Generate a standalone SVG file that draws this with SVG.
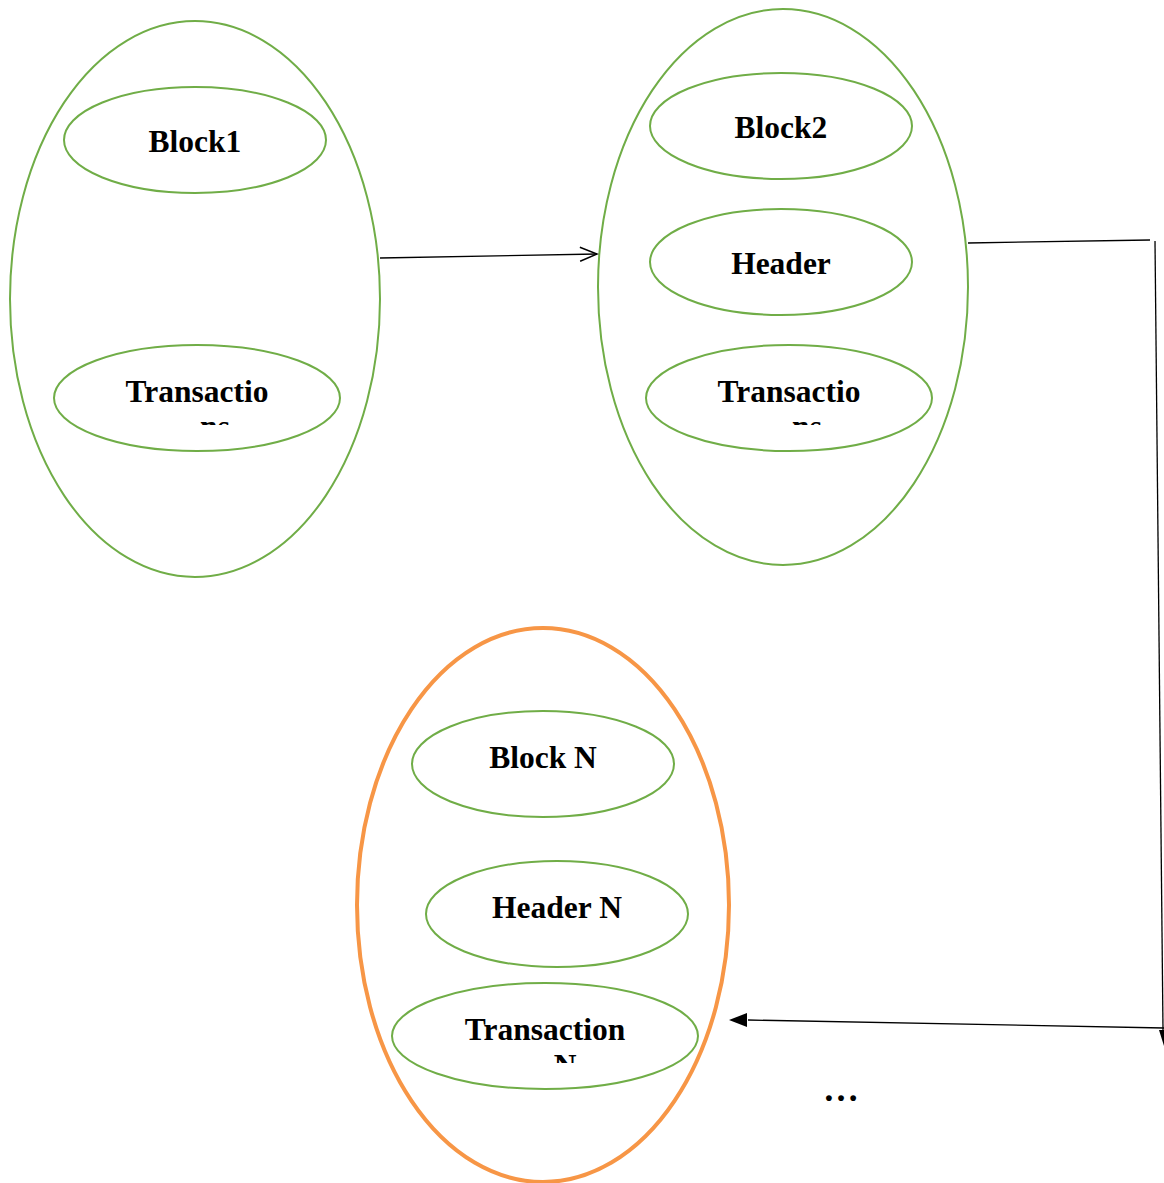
<svg xmlns="http://www.w3.org/2000/svg" width="1164" height="1183" viewBox="0 0 1164 1183">
<style>
.g{fill:none;stroke:#70AD47;stroke-width:2}
.o{fill:none;stroke:#F79646;stroke-width:4}
.t{font-family:"Liberation Serif","Times New Roman",serif;font-weight:bold;font-size:31.5px;fill:#000;text-anchor:middle}
.c{fill:none;stroke:#000;stroke-width:1.3}
</style>
<defs>
<marker id="open" markerWidth="20" markerHeight="16" refX="18" refY="8" orient="auto" markerUnits="userSpaceOnUse">
<path d="M1,1 L18,8 L1,15" fill="none" stroke="#000" stroke-width="1.5"/>
</marker>
<clipPath id="c1"><rect x="0" y="0" width="1164" height="425"/></clipPath>
<clipPath id="c2"><rect x="0" y="0" width="1164" height="1063"/></clipPath>
</defs>
<rect width="1164" height="1183" fill="#fff"/>
<g id="block1">
<ellipse class="g" cx="195" cy="299" rx="185" ry="278"/>
<ellipse class="g" cx="195" cy="140" rx="131" ry="53"/>
<text class="t" x="195" y="152">Block1</text>
<ellipse class="g" cx="197" cy="398" rx="143" ry="53"/>
<g clip-path="url(#c1)"><text class="t" x="197" y="402">Transactio</text><text class="t" x="215" y="437">ns</text></g>
</g>
<g id="block2">
<ellipse class="g" cx="783" cy="287" rx="185" ry="278"/>
<ellipse class="g" cx="781" cy="126" rx="131" ry="53"/>
<text class="t" x="781" y="138">Block2</text>
<ellipse class="g" cx="781" cy="262" rx="131" ry="53"/>
<text class="t" x="781" y="274">Header</text>
<ellipse class="g" cx="789" cy="398" rx="143" ry="53"/>
<g clip-path="url(#c1)"><text class="t" x="789" y="402">Transactio</text><text class="t" x="807" y="437">ns</text></g>
</g>
<g id="blockN">
<ellipse class="o" cx="543" cy="905" rx="186" ry="277"/>
<ellipse class="g" cx="543" cy="764" rx="131" ry="53"/>
<text class="t" x="543" y="768">Block N</text>
<ellipse class="g" cx="557" cy="914" rx="131" ry="53"/>
<text class="t" x="557" y="918">Header N</text>
<ellipse class="g" cx="545" cy="1036" rx="153" ry="53"/>
<g clip-path="url(#c2)"><text class="t" x="545" y="1040">Transaction</text><text class="t" x="565" y="1076">N</text></g>
</g>
<g id="connectors">
<line class="c" x1="380" y1="258" x2="597" y2="254" marker-end="url(#open)"/>
<polyline class="c" points="968,243 1150,240"/>
<line class="c" x1="1155" y1="241" x2="1163" y2="1030"/>
<path d="M1159,1030 L1164,1030 L1164,1046 Z" fill="#000"/>
<line class="c" x1="1164" y1="1028" x2="748" y2="1020"/>
<path d="M747,1013 L729,1020 L747,1027 Z" fill="#000"/>
</g>
<text x="841" y="1101" style="font-family:'Liberation Serif',serif;font-weight:bold;font-size:36px;text-anchor:middle">…</text>
</svg>
